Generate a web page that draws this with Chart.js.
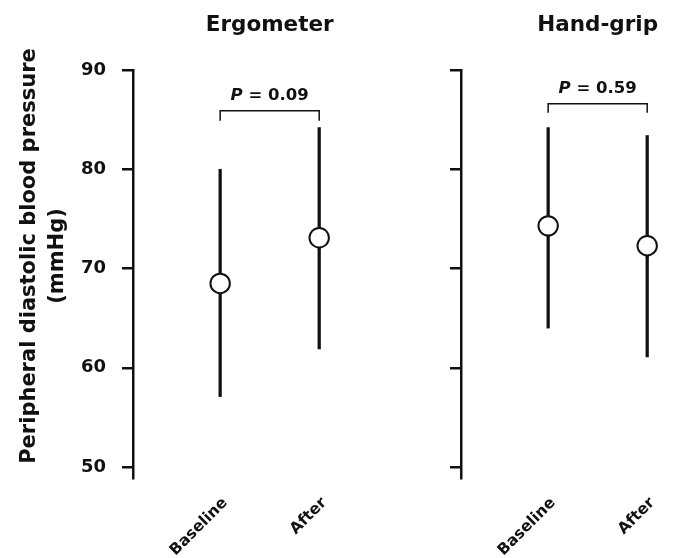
<!DOCTYPE html>
<html>
<head>
<meta charset="utf-8">
<script src="https://cdn.jsdelivr.net/npm/chart.js@4"></script>
<style>
  body { margin: 0; background: #fff; }
  #wrap { position: relative; width: 673px; height: 558px; overflow: hidden; }
  .panel { position: absolute; top: 0; }
  #left { left: 0; }
  #right { left: 339px; }
</style>
</head>
<body>
<div id="wrap">
  <div class="panel" id="left"><canvas id="chartLeft" width="345" height="558"></canvas></div>
  <div class="panel" id="right"><canvas id="chartRight" width="334" height="558"></canvas></div>
</div>
<script>
//****DATA****//

var categories = ['Baseline', 'After'];
var yTicks = [50, 60, 70, 80, 90];
var panelTitles = ['Ergometer', 'Hand-grip'];
var yTitleLines = ['Peripheral diastolic blood pressure', '(mmHg)'];

var ergoMean = [68.5, 73.1];
var ergoLow = [57.1, 61.9];
var ergoHigh = [80.0, 84.2];

var gripMean = [74.3, 72.3];
var gripLow = [64.0, 61.1];
var gripHigh = [84.2, 83.4];

var pValues = ['0.09', '0.59'];
var bracketTop = [85.9, 86.6];
var bracketFoot = [84.9, 85.7];

//****STYLE****//

var ink = '#111';
var family = "'DejaVu Sans', sans-serif";

//****PLUGIN: titles, bracket, p value****//

var annotate = {
  id: 'annotate',
  afterDraw: function (chart) {
    var o = chart.options.plugins.annotate;
    var ctx = chart.ctx;
    var xs = chart.scales.x;
    var ys = chart.scales.y;
    var x1 = xs.getPixelForValue(1);
    var x2 = xs.getPixelForValue(2);

    ctx.save();
    ctx.fillStyle = ink;
    ctx.strokeStyle = ink;

    // panel title
    ctx.font = 'bold 21.5px ' + family;
    ctx.textAlign = 'center';
    ctx.textBaseline = 'alphabetic';
    ctx.fillText(o.title, (x1 + x2) / 2, 31);

    // bracket
    var yt = ys.getPixelForValue(o.bTop);
    var yf = ys.getPixelForValue(o.bFoot);
    ctx.lineWidth = 1.5;
    ctx.beginPath();
    ctx.moveTo(x1, yf);
    ctx.lineTo(x1, yt);
    ctx.lineTo(x2, yt);
    ctx.lineTo(x2, yf);
    ctx.stroke();

    // P = value, italic P
    var italic = 'italic bold 16.5px ' + family;
    var plain = 'bold 16.5px ' + family;
    var rest = ' = ' + o.p;
    ctx.font = italic;
    var w1 = ctx.measureText('P').width;
    ctx.font = plain;
    var w2 = ctx.measureText(rest).width;
    var start = (x1 + x2) / 2 - (w1 + w2) / 2;
    ctx.textAlign = 'left';
    ctx.font = italic;
    ctx.fillText('P', start, yt - 11);
    ctx.font = plain;
    ctx.fillText(rest, start + w1, yt - 11);

    // y axis title (left panel only)
    if (o.yTitle) {
      ctx.font = 'bold 21px ' + family;
      ctx.textAlign = 'center';
      ctx.translate(35, 256);
      ctx.rotate(-Math.PI / 2);
      ctx.fillText(o.yTitle[0], 0, 0);
      ctx.fillText(o.yTitle[1], 0, 28);
    }
    ctx.restore();
  }
};

//****CHART BUILDER****//

function makePanel(canvasId, title, mean, low, high, p, bTop, bFoot, isLeft) {
  var points = [];
  var bars = [];
  for (var i = 0; i < categories.length; i++) {
    points.push({ x: i + 1, y: mean[i] });
    bars.push({ x: i + 1, y: [low[i], high[i]] });
  }

  var ctx = document.getElementById(canvasId).getContext('2d');

  return new Chart(ctx, {
    type: 'bar',
    data: {
      datasets: [
        {
          type: 'scatter',
          data: points,
          order: 1,
          showLine: false,
          pointRadius: 9.7,
          pointHoverRadius: 9.7,
          pointBorderWidth: 2,
          pointBackgroundColor: '#fff',
          pointBorderColor: ink
        },
        {
          type: 'bar',
          data: bars,
          order: 2,
          backgroundColor: ink,
          borderWidth: 0,
          barThickness: 2.6
        }
      ]
    },
    options: {
      responsive: false,
      animation: false,
      layout: {
        autoPadding: false,
        padding: { top: 70, right: 5, left: 0, bottom: 0 }
      },
      plugins: {
        legend: { display: false },
        tooltip: { enabled: false },
        annotate: {
          title: title,
          p: p,
          bTop: bTop,
          bFoot: bFoot,
          yTitle: isLeft ? yTitleLines : null
        }
      },
      scales: {
        x: {
          type: 'linear',
          min: 0.12,
          max: 2.21,
          offset: false,
          grid: { display: false },
          border: { display: false },
          afterBuildTicks: function (scale) {
            scale.ticks = categories.map(function (c, i) { return { value: i + 1 }; });
          },
          afterFit: function (scale) {
            scale.height = 80;
            scale.paddingLeft = 0;
            scale.paddingRight = 0;
          },
          ticks: {
            autoSkip: false,
            minRotation: 45,
            maxRotation: 45,
            padding: 8,
            labelOffset: 5,
            color: ink,
            font: { family: family, size: 15.5, weight: 'bold' },
            callback: function (v) { return categories[v - 1]; }
          }
        },
        y: {
          type: 'linear',
          min: 48.9,
          max: 90,
          afterBuildTicks: function (scale) {
            scale.ticks = yTicks.map(function (v) { return { value: v }; });
          },
          afterFit: function (scale) {
            scale.width = isLeft ? 133 : 122;
            scale.paddingTop = 0;
            scale.paddingBottom = 0;
          },
          grid: {
            display: true,
            drawOnChartArea: false,
            drawTicks: true,
            tickLength: 11,
            color: ink,
            lineWidth: 2.5
          },
          border: { display: true, color: ink, width: 2.5 },
          ticks: {
            display: isLeft,
            padding: 16,
            color: ink,
            font: { family: family, size: 18, weight: 'bold' }
          }
        }
      }
    },
    plugins: [annotate]
  });
}

//****DRAW PANELS****//

makePanel('chartLeft', panelTitles[0], ergoMean, ergoLow, ergoHigh,
  pValues[0], bracketTop[0], bracketFoot[0], true);
makePanel('chartRight', panelTitles[1], gripMean, gripLow, gripHigh,
  pValues[1], bracketTop[1], bracketFoot[1], false);
</script>
</body>
</html>
